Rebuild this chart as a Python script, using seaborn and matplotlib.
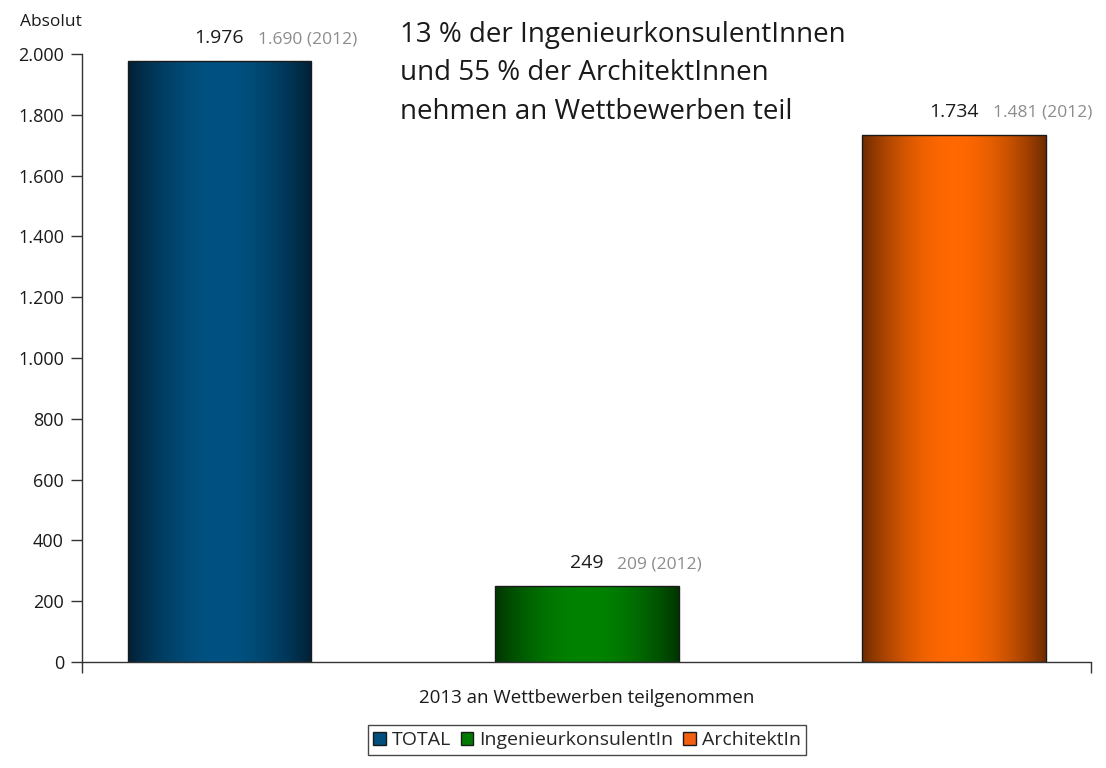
import numpy as np
import matplotlib
matplotlib.use('Agg')
import matplotlib.pyplot as plt
import seaborn as sns
from matplotlib.colors import LinearSegmentedColormap
from matplotlib.patches import Patch
from matplotlib.ticker import FuncFormatter

# Daten
categories = ['TOTAL', 'IngenieurkonsulentIn', 'ArchitektIn']
values_2013 = [1976, 249, 1734]
values_2012 = [1690, 209, 1481]
y_ticks = [0, 200, 400, 600, 800, 1000, 1200, 1400, 1600, 1800, 2000]

headline = '13 % der IngenieurkonsulentInnen\nund 55 % der ArchitektInnen\nnehmen an Wettbewerben teil'
x_label = '2013 an Wettbewerben teilgenommen'

# Farben: (Rand dunkel, Mitte hell)
grad_colors = [('#001c2e', '#005282'), ('#002f00', '#008300'), ('#622600', '#ff6800')]
legend_colors = ['#004f7c', '#007a00', '#f06010']

sns.set_style('white')
plt.rcParams['font.family'] = ['Open Sans', 'DejaVu Sans']

fig = plt.figure(figsize=(11.06, 7.68), dpi=100)
ax = fig.add_axes([82 / 1106, 1 - 662 / 768, (1091 - 82) / 1106, (662 - 54) / 768])

sns.barplot(x=categories, y=values_2013, hue=categories, palette=legend_colors,
            width=0.5, edgecolor='#1a1a1a', linewidth=1, legend=False, ax=ax)

# Farbverlauf in den Balken (dunkle Ränder, helle Mitte)
xs = np.linspace(0, 1, 400)
grad = (np.sin(np.pi * np.clip(xs * 0.96 + 0.02, 0, 1)) ** 0.9).reshape(1, -1)
for bar, (dark, light) in zip(ax.patches, grad_colors):
    x0, y0 = bar.get_x(), bar.get_y()
    w, h = bar.get_width(), bar.get_height()
    cmap = LinearSegmentedColormap.from_list('g', [dark, light], N=256)
    im = ax.imshow(grad, extent=[x0, x0 + w, y0, y0 + h], cmap=cmap, vmin=0, vmax=1,
                   aspect='auto', zorder=bar.get_zorder() - 0.1, interpolation='bicubic')
    im.set_clip_path(bar)
    bar.set_facecolor('none')

xmin, xmax = -0.374, 2.373
ax.set_xlim(xmin, xmax)
ax.set_ylim(0, 2000)
ax.set_yticks(y_ticks)
ax.yaxis.set_major_formatter(FuncFormatter(lambda v, p: f'{int(v):,}'.replace(',', '.')))
ax.set_xticks([xmin, xmax])
ax.set_xticklabels(['', ''])
ax.tick_params(axis='both', direction='out', length=8, width=1, color='#333333',
               labelsize=13, labelcolor='#1a1a1a', left=True, bottom=True)
ax.tick_params(axis='y', pad=5)
for s in ['top', 'right']:
    ax.spines[s].set_visible(False)
for s in ['left', 'bottom']:
    ax.spines[s].set_color('#333333')
    ax.spines[s].set_linewidth(1)
ax.set_xlabel(x_label, fontsize=13.5, color='#1a1a1a', labelpad=8)
ax.set_ylabel('')

# Werte-Beschriftungen
for i, (v13, v12) in enumerate(zip(values_2013, values_2012)):
    lab = f'{v13:,}'.replace(',', '.')
    old = f'{v12:,}'.replace(',', '.') + ' (2012)'
    t = ax.annotate(lab, (i, v13), xytext=(0, 10), textcoords='offset points',
                    ha='center', va='bottom', fontsize=14, color='#1a1a1a')
    ax.annotate(old, xy=(1, 0), xycoords=t, xytext=(10, 0), textcoords='offset points',
                ha='left', va='bottom', fontsize=12.5, color='#8c8c8c')

fig.text(20 / 1106, 1 - 22 / 768, 'Absolut', fontsize=12.5, color='#1a1a1a', va='center')
fig.text(400 / 1106, 1 - 21 / 768, headline, fontsize=20, color='#1a1a1a',
         va='top', ha='left', linespacing=1.5)

handles = [Patch(facecolor=c, edgecolor='#1a1a1a', linewidth=1) for c in legend_colors]
fig.legend(handles, categories, loc='center', bbox_to_anchor=(587 / 1106, 1 - 740 / 768),
           ncol=3, frameon=True, fancybox=False, edgecolor='#1a1a1a', fontsize=14,
           handlelength=0.65, handleheight=0.65, handletextpad=0.3, columnspacing=0.5,
           borderpad=0.3)

fig.savefig('out.png', dpi=100)
